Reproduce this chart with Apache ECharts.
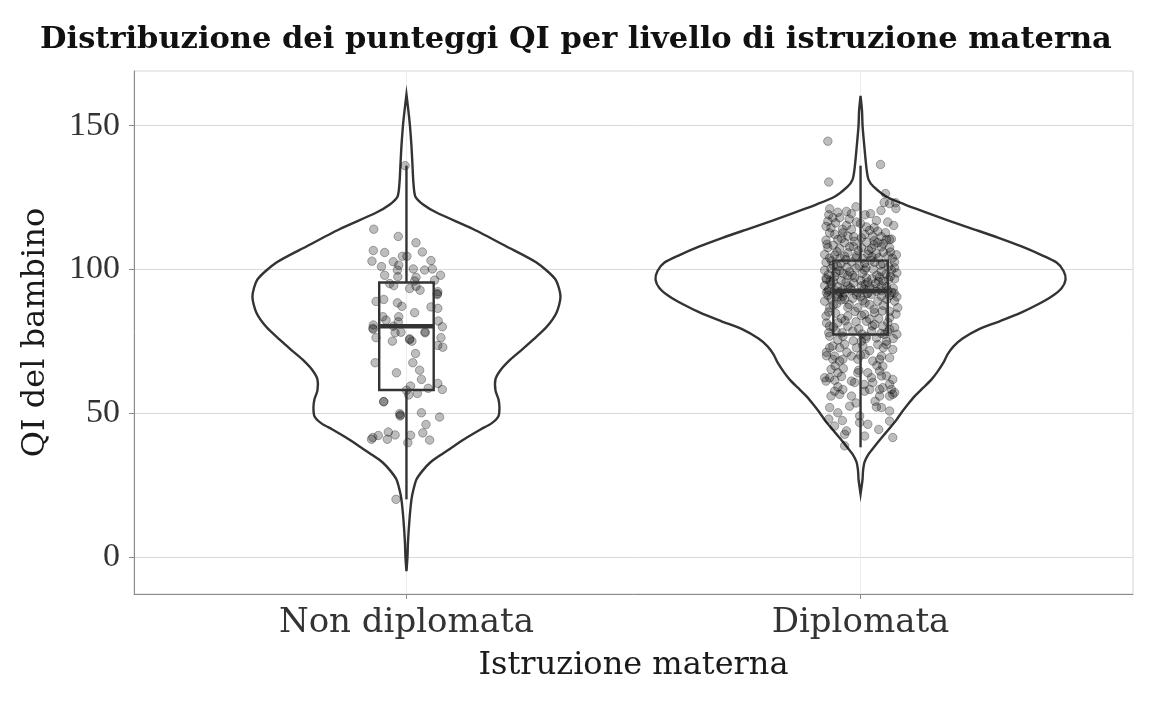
<!DOCTYPE html>
<html><head><meta charset="utf-8">
<script src="https://cdn.jsdelivr.net/npm/echarts@6/dist/echarts.min.js"></script>
<style>html,body{margin:0;padding:0;background:#fff}#c{width:1152px;height:711px}</style>
</head><body><div id="c"></div>
<script>
const titleText = 'Distribuzione dei punteggi QI per livello di istruzione materna';
const categories = ['Non diplomata', 'Diplomata'];
const xTickValues = [1, 2];
const yTicks = [0, 50, 100, 150];
const xAxisTitle = 'Istruzione materna';
const yAxisTitle = 'QI del bambino';

// violin outlines: [QI value, half width in category units]
const violinNonDipl = [
  [-4.9,0],[0,0.0022],[5,0.0033],[13,0.0066],[20,0.011],[23.5,0.0154],[27,0.022],[30,0.0352],[33,0.0529],
  [35.5,0.0749],[38.5,0.1035],[41.5,0.1322],[44.4,0.163],[46.5,0.1872],[49,0.2026],[52,0.2048],[54.9,0.2026],
  [58,0.196],[61.8,0.196],[65,0.207],[68.75,0.2291],[72,0.2533],[75.7,0.2797],[80,0.3084],[85,0.3304],
  [90.6,0.3392],[96.5,0.3282],[102.4,0.2863],[108,0.2203],[114,0.1476],[119.8,0.0661],[122.5,0.0374],
  [125.3,0.0198],[130,0.0154],[136.5,0.0132],[143,0.011],[150,0.0077],[155,0.0044],[160.8,0]
];
const violinDipl = [
  [22,0],[27,0.0044],[30,0.0055],[33,0.0088],[35.8,0.0176],[38.5,0.0308],[41.5,0.0463],[44.4,0.0617],
  [47.3,0.0771],[50.3,0.0903],[53,0.1035],[55.9,0.1189],[59,0.1388],[61.8,0.1564],[64.5,0.1696],[67.7,0.1828],
  [70.5,0.1916],[73.3,0.2048],[76,0.2247],[79.2,0.2599],[82,0.3062],[85.1,0.3546],[88,0.3921],[90.6,0.4207],
  [93.5,0.4427],[96.5,0.4515],[99.5,0.4471],[102.4,0.4317],[105,0.3987],[108,0.3546],[111,0.304],[113.9,0.2511],
  [117,0.1938],[119.8,0.1454],[122.5,0.0991],[125.3,0.0573],[128.8,0.0286],[131.25,0.0176],[135,0.0132],
  [142,0.0088],[150,0.0044],[155,0.0033],[160.4,0]
];

// box statistics: [lower whisker, Q1, median, Q3, upper whisker]
const boxNonDipl = [20.1, 58.1, 80.3, 95.5, 136.1];
const boxDipl = [38.2, 77.4, 92.5, 103.1, 136.1];

// jittered observations: [x position on category axis, QI]
const pointsNonDipl = [
  [0.997,136.1],[0.928,114],[0.982,111.5],[1.021,109.3],[0.927,106.6],[0.952,105.9],[1.035,106.1],[0.991,104.6],
  [1.001,104.6],[0.924,102.9],[1.054,103.1],[0.971,102.7],[0.983,101.5],[0.980,99.8],[1.015,100.2],[1.040,99.8],
  [1.057,100.2],[0.952,98],[0.981,97.5],[1.075,98],[1.021,97.3],[0.963,95.1],[0.972,94.4],[1.062,96.3],
  [1.007,93.4],[1.021,94.2],[1.030,92.8],[1.069,92.3],[1.068,91.3],[0.933,88.9],[0.950,89.6],[0.980,88.4],
  [0.990,87.2],[1.054,87],[1.069,86.5],[1.018,85],[0.948,83.6],[0.955,82.4],[0.983,83.6],[1.070,82.1],
  [0.927,80.7],[1.079,80.1],[0.927,79.2],[0.975,78],[0.988,78.2],[0.933,76.3],[0.969,75.1],[1.007,75.9],
  [1.012,75.1],[1.041,78],[1.076,76.3],[1.069,73.6],[1.080,73],[1.020,70.8],[0.931,67.6],[1.014,67.6],
  [1.029,65],[0.978,64.1],[1.033,61.8],[1.069,60.4],[1.009,59.5],[1.048,58.7],[1.079,58.3],[1.005,56.4],
  [1.024,56.9],[0.950,54],[0.950,54.1],[0.985,49.9],[0.986,49.1],[1.033,50.2],[1.073,48.7],[1.043,46.1],
  [1.036,43.2],[0.960,43.5],[0.975,42.5],[1.009,42.4],[0.938,42.3],[0.926,41.6],[0.923,41],[0.958,41],
  [1.051,40.7],[1.003,39.8],[0.977,20.1],
  [1.007,75.6],[1.041,78.3],[0.926,79.6],[0.987,49.4],[1.068,91.6],[0.971,80.3],[0.982,81.8],[1.018,96.0],
  [0.945,101.0],[1.000,58.0]
];
const pointsDipl = [
  [1.928,144.6],[1.930,130.4],[2.044,136.5],[2.055,126.4],[2.052,123.3],[2.064,122.9],[2.077,123.2],[2.078,121.2],
  [1.932,121.1],[1.950,119.9],[1.969,120.2],[1.980,119.4],[2.022,119.4],
  [1.939,118.0],[1.928,116.8],[1.954,118.0],[1.991,116.5],[2.073,115.3],[1.969,115.3],[1.924,115.0],[1.935,114.5],
  [1.980,113.9],[2.013,114.8],[2.020,113.6],[2.038,113.3],[2.064,110.4],
  [1.932,112.7],[1.943,112.2],[1.961,112.7],[1.972,111.6],[2.009,112.2],[2.027,111.6],[2.046,111.4],
  [1.924,110.2],[1.950,110.4],[1.965,109.3],[1.987,109.8],[2.013,109.5],[2.038,109.3],[2.057,110.4],[2.068,110.6],
  [1.928,107.6],[1.954,107.3],[1.976,107.9],[2.002,107.6],[2.024,107.3],[2.046,107.9],[2.064,107.6],[1.940,108.4],[2.030,108.6],[1.995,106.5],
  [1.921,105.2],[1.943,105.0],[1.965,104.6],[1.991,104.8],[2.016,105.3],[2.035,105.5],[2.060,104.7],[2.079,105.1],[1.932,104.0],[2.050,106.0],[2.005,103.8],
  [1.924,102.5],[1.957,102.0],[1.980,102.6],[2.009,102.2],[2.031,102.5],[2.049,102.0],[2.075,102.6],[1.940,101.5],[1.997,101.2],[2.062,101.0],[2.022,103.2],
  [1.921,99.7],[1.935,100.3],[1.954,99.6],[1.976,99.2],[2.009,99.8],[2.046,99.3],[2.068,99.8],[1.990,100.5],[2.028,100.1],[1.962,98.6],[2.056,98.4],[2.080,98.8],
  [1.924,97.0],[1.943,97.6],[1.972,97.8],[1.987,97.2],[2.013,97.0],[2.042,97.4],[2.062,96.5],[1.933,96.0],[2.000,96.2],[2.025,96.8],[2.075,96.7],[1.957,96.2],
  [1.921,94.4],[1.935,94.9],[1.950,94.0],[1.972,94.3],[2.002,94.3],[2.020,93.9],[2.046,94.3],[2.057,94.0],[1.985,95.3],[2.033,95.1],[2.072,93.5],[1.961,93.0],[1.930,93.0],
  [1.928,92.5],[1.943,92.8],[1.954,92.2],[1.965,91.8],[1.994,92.0],[2.016,91.7],[2.046,92.6],[2.069,92.0],[1.980,92.8],[2.035,92.4],[2.008,93.1],
  [1.928,91.0],[1.950,91.4],[1.961,90.6],[1.991,91.2],[2.024,91.3],[2.064,91.0],[2.080,90.5],
  [1.921,89.0],[1.935,89.8],[1.957,89.4],[1.965,89.6],[1.983,90.0],[2.005,89.2],[2.020,87.8],[2.038,89.0],[2.058,89.6],[2.075,89.0],
  [1.932,86.7],[1.994,86.7],[2.082,86.7],[1.947,88.0],[2.010,88.4],[2.050,87.5],[1.975,87.8],
  [1.924,83.8],[1.972,83.8],[2.009,84.4],[2.031,85.0],[2.064,83.2],[1.945,84.8],[1.988,85.4],[2.048,85.6],[2.078,84.5],[1.958,83.0],[2.020,82.8],
  [1.932,80.3],[1.972,80.3],[2.013,82.0],[2.031,80.9],[2.075,79.8],[2.049,80.3],[1.950,81.5],[1.990,81.8],[2.060,81.6],[1.925,81.4],
  [1.946,78.6],[1.983,78.6],[2.024,78.6],[2.064,79.2],[1.930,78.0],[2.003,77.6],[2.045,77.8],[2.080,77.5],
  [1.932,76.8],[1.961,76.8],[2.002,75.1],[2.013,76.8],[2.053,77.4],[2.057,75.1],[1.950,75.5],[2.035,76.2],[2.072,76.0],
  [1.932,72.8],[1.939,73.4],[1.954,72.8],[1.991,72.8],[2.005,73.4],[2.038,73.9],[2.057,73.9],[2.071,72.2],[1.965,74.0],[2.020,71.8],[1.925,71.2],
  [1.939,68.8],[1.943,69.9],[1.954,68.2],[1.961,68.8],[1.980,69.9],[1.994,68.8],[2.027,68.2],[2.042,68.8],[2.046,69.9],[2.064,69.3],[2.010,70.5],[1.925,70.0],
  [1.935,65.3],[1.950,64.1],[1.994,64.1],[1.996,65.0],[2.016,64.1],[2.042,64.7],[2.049,66.4],[2.057,63.0],[1.944,66.5],
  [1.921,62.4],[1.924,61.2],[1.932,62.4],[1.943,61.5],[1.980,61.2],[1.987,60.7],[2.027,60.7],[2.046,63.0],[2.064,60.1],[2.071,61.8],
  [1.943,57.7],[1.961,58.3],[2.009,57.7],[2.020,58.3],[2.042,58.3],[2.049,58.9],[2.068,58.3],[2.075,57.2],
  [1.935,56.0],[1.954,56.6],[1.980,56.0],[2.042,56.0],[2.064,56.0],[2.071,56.6],
  [1.932,52.0],[1.950,50.2],[1.976,52.5],[2.035,52.2],[2.046,52.0],[2.064,50.8],
  [1.943,45.6],[1.969,43.9],[1.998,49.1],[1.998,46.8],[2.016,46.2],[2.064,47.3],[2.071,41.6],[2.009,42.1],[1.965,42.7],[1.965,38.7],
  [1.926,108.8],[1.948,106.2],[1.972,105.8],[1.984,108.0],[2.018,106.6],[2.040,104.1],[2.066,106.1],[1.958,110.8],[2.002,111.0],[2.030,110.0],
  [1.936,103.0],[1.968,103.4],[1.990,104.0],[2.012,100.6],[2.044,101.6],[2.070,103.9],[1.950,101.0],[1.929,98.2],[1.970,100.8],[2.036,98.0],
  [1.946,99.0],[1.982,98.0],[2.004,98.6],[2.050,96.0],[2.066,97.6],[1.940,95.8],[1.968,95.6],[2.016,95.6],[2.040,95.9],[1.925,92.0],
  [1.978,93.6],[2.028,93.2],[2.060,92.7],[1.950,90.5],[2.000,90.6],[2.014,91.6],[2.046,90.7],[2.074,91.8],[1.940,87.7],[1.972,86.8],
  [2.030,86.2],[2.064,85.5],[1.930,85.2],[2.002,84.0],[2.040,83.0],[1.966,82.2],[1.940,80.0],[2.026,80.4],[1.996,79.4],[2.060,78.4],
  [1.960,78.0],[2.012,76.0],[1.984,75.2],[2.050,72.8],[1.970,71.2],[2.000,70.2],[2.036,66.6],[1.962,65.6],[2.024,62.4],[1.958,62.8],
  [2.008,60.0],[1.950,59.2],[2.032,54.2],[1.990,53.6],[1.960,47.5],[2.040,44.4],[1.930,48.0],
  [2.000,116.0],[1.945,116.2],[2.035,117.0],[1.960,114.0],[2.055,112.8],[2.010,119.0],[1.975,117.5],[2.045,120.5],[1.990,121.8],
  [2.030,114.6],[1.930,119.0],[2.060,116.5],[1.985,111.4],[2.050,109.0],[1.955,104.0],[2.025,104.4],[2.075,100.6],[1.925,96.5],[2.010,94.8]
];

const violins = [violinNonDipl, violinDipl];
const boxes = [boxNonDipl, boxDipl];
const BOX_HALF = 0.06;
const INK = '#333333';
const serif = 'DejaVu Serif';

const chart = echarts.init(document.getElementById('c'), null, {renderer: 'canvas'});

function renderViolin(params, api) {
  const c = api.value(0);
  const prof = violins[params.dataIndex];
  const right = prof.map(p => api.coord([c + p[1], p[0]]));
  const left = prof.slice().reverse().map(p => api.coord([c - p[1], p[0]]));
  return {
    type: 'polygon',
    shape: {points: right.concat(left), smooth: 0.25},
    style: {fill: 'rgba(255,255,255,0)', stroke: INK, lineWidth: 2.4}
  };
}

function renderBox(params, api) {
  const c = api.value(0);
  const b = boxes[params.dataIndex];
  const tl = api.coord([c - BOX_HALF, b[3]]);
  const br = api.coord([c + BOX_HALF, b[1]]);
  const lineStyle = {stroke: INK, lineWidth: 2.4, fill: null};
  const top = api.coord([c, b[4]]), q3 = api.coord([c, b[3]]);
  const q1 = api.coord([c, b[1]]), low = api.coord([c, b[0]]);
  const mL = api.coord([c - BOX_HALF, b[2]]), mR = api.coord([c + BOX_HALF, b[2]]);
  return {
    type: 'group',
    children: [
      {type: 'line', shape: {x1: top[0], y1: top[1], x2: q3[0], y2: q3[1]}, style: lineStyle},
      {type: 'line', shape: {x1: q1[0], y1: q1[1], x2: low[0], y2: low[1]}, style: lineStyle},
      {type: 'rect', shape: {x: tl[0], y: tl[1], width: br[0] - tl[0], height: br[1] - tl[1]},
        style: {fill: 'rgba(255,255,255,0)', stroke: INK, lineWidth: 2.4}},
      {type: 'line', shape: {x1: mL[0], y1: mL[1], x2: mR[0], y2: mR[1]}, style: {stroke: INK, lineWidth: 4.5}}
    ]
  };
}

const pointStyle = {color: 'rgba(0,0,0,0.26)', borderColor: 'rgba(0,0,0,0.30)', borderWidth: 1, opacity: 1};

chart.setOption({
  animation: false,
  backgroundColor: '#ffffff',
  title: {
    text: titleText, left: 'center', top: 20,
    textStyle: {fontFamily: serif, fontWeight: 'bold', fontSize: 30.5, color: '#111111'}
  },
  grid: {left: 134, right: 19, top: 71, bottom: 117, show: true, borderColor: '#d6d6d6', borderWidth: 1, backgroundColor: '#ffffff'},
  xAxis: {
    type: 'value', min: 0.4, max: 2.6,
    name: xAxisTitle, nameLocation: 'middle', nameGap: 56,
    nameTextStyle: {fontFamily: serif, fontSize: 32, color: '#1a1a1a'},
    axisLine: {show: true, onZero: false, lineStyle: {color: '#8a8a8a', width: 1}},
    axisTick: {show: true, customValues: xTickValues, length: 5, lineStyle: {color: '#8a8a8a'}},
    axisLabel: {customValues: xTickValues, formatter: v => categories[Math.round(v) - 1] || '',
      fontFamily: serif, fontSize: 34, color: '#333333', margin: 12},
    splitLine: {show: true, lineStyle: {color: '#ececec', width: 1}}
  },
  yAxis: {
    type: 'value', min: -12.8, max: 169,
    name: yAxisTitle, nameLocation: 'middle', nameGap: 82, nameRotate: 90,
    nameTextStyle: {fontFamily: serif, fontSize: 32, color: '#1a1a1a'},
    axisLine: {show: true, lineStyle: {color: '#8a8a8a', width: 1}},
    axisTick: {show: true, customValues: yTicks, length: 5, lineStyle: {color: '#8a8a8a'}},
    axisLabel: {customValues: yTicks, fontFamily: 'Liberation Serif', fontSize: 34, color: '#333333', margin: 14},
    splitLine: {show: true, lineStyle: {color: '#d9d9d9', width: 1}}
  },
  series: [
    {type: 'custom', name: 'violin', coordinateSystem: 'cartesian2d', renderItem: renderViolin,
      data: xTickValues.map(v => [v, 80]), encode: {x: 0, y: 1}, z: 2, silent: true},
    {type: 'scatter', name: categories[0], data: pointsNonDipl, symbol: 'circle', symbolSize: 8.5, itemStyle: pointStyle, z: 3, silent: true},
    {type: 'scatter', name: categories[1], data: pointsDipl, symbol: 'circle', symbolSize: 8.5, itemStyle: pointStyle, z: 3, silent: true},
    {type: 'custom', name: 'box', coordinateSystem: 'cartesian2d', renderItem: renderBox,
      data: xTickValues.map(v => [v, 80]), encode: {x: 0, y: 1}, z: 4, silent: true}
  ]
});
</script>
</body></html>
